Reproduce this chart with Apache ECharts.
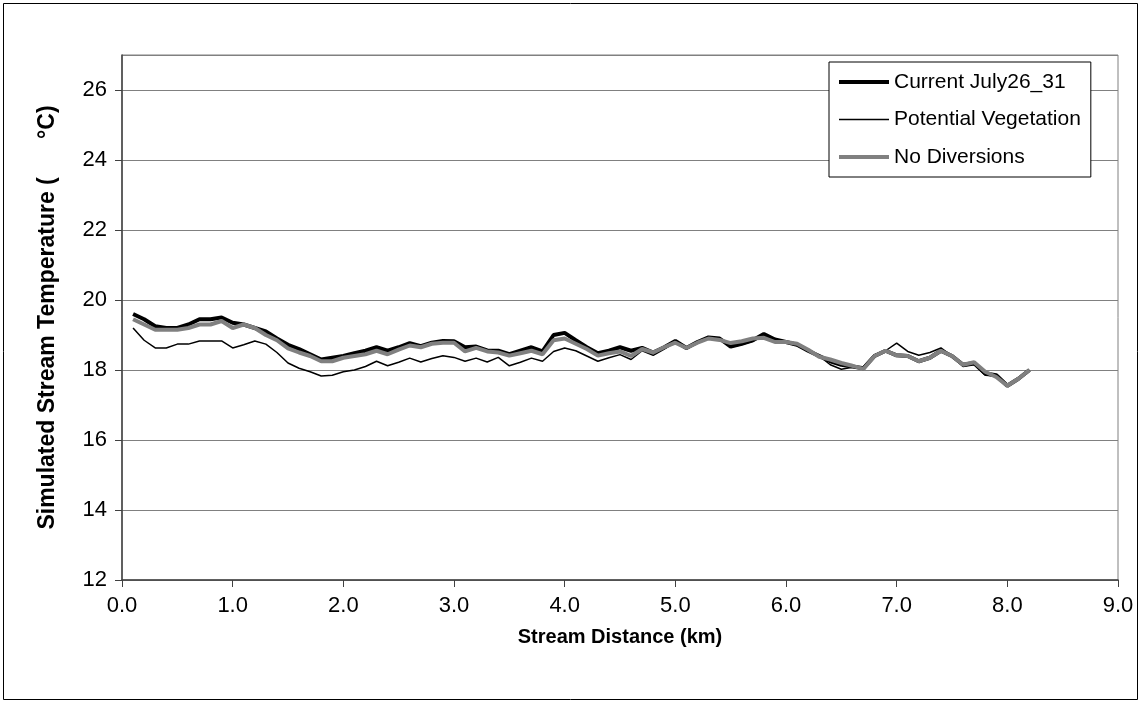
<!DOCTYPE html>
<html><head><meta charset="utf-8">
<script src="https://cdn.jsdelivr.net/npm/echarts@6/dist/echarts.min.js"></script>
<style>html,body{margin:0;padding:0;background:#fff}#c{width:1142px;height:704px}</style>
</head><body><div id="c"></div>
<script>
var distance = [0.1,0.2,0.3,0.4,0.5,0.6,0.7,0.8,0.9,1.0,1.1,1.2,1.3,1.4,1.5,1.6,1.7,1.8,1.9,2.0,2.1,2.2,2.3,2.4,2.5,2.6,2.7,2.8,2.9,3.0,3.1,3.2,3.3,3.4,3.5,3.6,3.7,3.8,3.9,4.0,4.1,4.2,4.3,4.4,4.5,4.6,4.7,4.8,4.9,5.0,5.1,5.2,5.3,5.4,5.5,5.6,5.7,5.8,5.9,6.0,6.1,6.2,6.3,6.4,6.5,6.6,6.7,6.8,6.9,7.0,7.1,7.2,7.3,7.4,7.5,7.6,7.7,7.8,7.9,8.0,8.1,8.2];
var currentJuly = [19.6,19.45,19.25,19.2,19.2,19.3,19.45,19.45,19.5,19.35,19.3,19.2,19.1,18.9,18.72,18.6,18.45,18.3,18.35,18.4,18.48,18.55,18.65,18.55,18.65,18.77,18.68,18.78,18.83,18.82,18.65,18.67,18.56,18.55,18.45,18.55,18.65,18.53,19.0,19.06,18.85,18.65,18.48,18.55,18.65,18.55,18.63,18.5,18.65,18.83,18.63,18.8,18.93,18.9,18.67,18.75,18.85,19.03,18.87,18.8,18.72,18.55,18.4,18.25,18.15,18.1,18.05,18.4,18.55,18.42,18.4,18.25,18.35,18.55,18.4,18.15,18.2,17.9,17.85,17.55,17.75,18.0];
var potentialVeg = [19.2,18.85,18.63,18.63,18.74,18.74,18.83,18.83,18.83,18.63,18.72,18.83,18.74,18.5,18.2,18.05,17.95,17.83,17.85,17.95,18.0,18.1,18.25,18.12,18.22,18.34,18.23,18.33,18.41,18.36,18.25,18.34,18.23,18.36,18.12,18.22,18.34,18.25,18.53,18.63,18.55,18.4,18.25,18.35,18.44,18.3,18.55,18.42,18.6,18.8,18.6,18.78,18.92,18.88,18.65,18.73,18.82,19.0,18.87,18.78,18.7,18.55,18.4,18.15,18.02,18.08,18.1,18.44,18.55,18.77,18.53,18.42,18.5,18.63,18.4,18.1,18.15,17.85,17.83,17.55,17.75,18.0];
var noDiversions = [19.45,19.3,19.15,19.15,19.15,19.2,19.3,19.3,19.4,19.2,19.3,19.2,19.0,18.85,18.62,18.5,18.4,18.25,18.25,18.35,18.4,18.45,18.55,18.45,18.58,18.7,18.65,18.75,18.78,18.78,18.53,18.63,18.53,18.5,18.41,18.48,18.55,18.45,18.85,18.9,18.75,18.6,18.41,18.48,18.53,18.4,18.6,18.5,18.65,18.78,18.63,18.78,18.9,18.86,18.77,18.82,18.9,18.92,18.8,18.8,18.75,18.58,18.38,18.3,18.2,18.12,18.03,18.4,18.55,18.42,18.4,18.25,18.35,18.55,18.4,18.15,18.22,17.95,17.8,17.55,17.75,18.0];
var seriesNames = ['Current July26_31','Potential Vegetation','No Diversions'];
var seriesColors = ['#000000','#000000','#808080'];
var seriesWidths = [4, 1.5, 4];

function pairs(v){ return distance.map(function(d,i){ return [d, v[i]]; }); }
var FONT = 'Liberation Sans, Arial, sans-serif';
var chart = echarts.init(document.getElementById('c'), null, {renderer:'canvas'});
var values = [currentJuly, potentialVeg, noDiversions];
chart.setOption({
  animation:false,
  backgroundColor:'#fff',
  textStyle:{fontFamily:FONT},
  graphic:[{type:'rect', shape:{x:3.5,y:3.5,width:1134,height:696}, style:{fill:'none',stroke:'#000',lineWidth:1}, z:-1}],
  grid:{left:122, top:55, width:996, height:525, show:true, borderColor:'#808080', borderWidth:1, backgroundColor:'transparent'},
  legend:{
    orient:'vertical', left:829, top:62, itemWidth:50, itemHeight:22, itemGap:15.5,
    data:seriesNames.map(function(n,i){ return {name:n, lineStyle:{color:seriesColors[i], width:seriesWidths[i]}}; }),
    itemStyle:{opacity:0},
    textStyle:{fontFamily:FONT, fontSize:21, lineHeight:22, color:'#000'},
    backgroundColor:'#fff', borderColor:'#000', borderWidth:1, padding:[9,10,9,8]
  },
  xAxis:{
    type:'value', min:0, max:9, interval:1,
    name:'Stream Distance (km)', nameLocation:'middle', nameGap:47,
    nameTextStyle:{fontFamily:FONT, fontSize:20, fontWeight:'bold', color:'#000'},
    axisLine:{show:true, onZero:false, lineStyle:{color:'#404040', width:1.5}},
    axisTick:{show:true, inside:false, length:7, lineStyle:{color:'#404040'}},
    axisLabel:{fontFamily:FONT, fontSize:22, color:'#000', margin:15, formatter:function(v){return v.toFixed(1);}},
    splitLine:{show:false}
  },
  yAxis:{
    type:'value', min:12, max:27, interval:2,
    name:'Simulated Stream Temperature (      \u00B0C)', nameLocation:'middle', nameGap:63, nameRotate:90,
    nameTextStyle:{fontFamily:FONT, fontSize:23, fontWeight:'bold', color:'#000'},
    axisLine:{show:true, lineStyle:{color:'#404040', width:1.5}},
    axisTick:{show:true, inside:false, length:7, lineStyle:{color:'#404040'}},
    axisLabel:{fontFamily:FONT, fontSize:22, color:'#000', margin:15, showMaxLabel:false},
    splitLine:{show:true, lineStyle:{color:'#808080', width:1}}
  },
  series:seriesNames.map(function(n,i){
    return {name:n, type:'line', data:pairs(values[i]), symbol:'none',
      lineStyle:{color:seriesColors[i], width:seriesWidths[i]}, itemStyle:{color:seriesColors[i]}, z:2+i};
  })
});
</script></body></html>
